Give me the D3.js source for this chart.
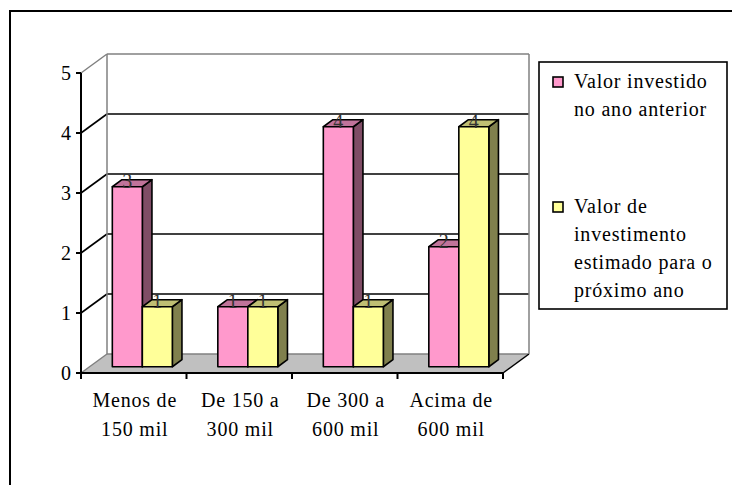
<!DOCTYPE html>
<html>
<head>
<meta charset="utf-8">
<script src="https://cdn.jsdelivr.net/npm/d3@7"></script>
<style>
  html, body { margin: 0; padding: 0; background: #fff; }
  svg { display: block; }
  svg text { font-family: "Liberation Serif", "Times New Roman", Times, serif; }
</style>
</head>
<body>
<svg id="chart" width="732" height="485"></svg>
<script>
// Investment ranges (two text lines each) and the two series
const categories = ["Menos de 150 mil", "De 150 a 300 mil", "De 300 a 600 mil", "Acima de 600 mil"];
const categoryLines = [["Menos de", "150 mil"], ["De 150 a", "300 mil"], ["De 300 a", "600 mil"], ["Acima de", "600 mil"]];
const seriesNames = ["Valor investido no ano anterior", "Valor de investimento estimado para o próximo ano"];
const legendLines = [["Valor investido", "no ano anterior"], ["Valor de", "investimento", "estimado para o", "próximo ano"]];
const valoresAnterior = [3, 1, 4, 2];
const valoresEstimado = [1, 1, 1, 4];
const yTicks = [0, 1, 2, 3, 4, 5];

const FONT = "'Liberation Serif', 'Times New Roman', Times, serif";

// face colours: front, top, side
const palette = [
  { front: "#FF99CC", top: "#C0739A", side: "#804D66" },
  { front: "#FFFF99", top: "#BFBF73", side: "#80804D" }
];

const svg = d3.select("#chart");

// outer frame of the chart area
svg.append("rect")
  .attr("x", 10).attr("y", 11).attr("width", 760).attr("height", 520)
  .attr("fill", "none").attr("stroke", "#000").attr("stroke-width", 2);

// plot geometry: front plane + oblique depth
const DX = 26, DY = -19;
const y = d3.scaleLinear().domain([0, 5]).range([373, 73]);
const x = d3.scaleBand().domain(categories).range([81, 503]);
const xs = d3.scaleBand().domain(seriesNames).range([0, x.bandwidth()]).paddingInner(0).paddingOuter(0.758);

const left = 81, right = 503;
const g = svg.append("g");

// floor
g.append("path")
  .attr("d", `M${left},${y(0)} L${right},${y(0)} L${right + DX},${y(0) + DY} L${left + DX},${y(0) + DY} Z`)
  .attr("fill", "#C0C0C0").attr("stroke", "none");
g.append("line")
  .attr("x1", left + DX).attr("x2", right + DX).attr("y1", y(0) + DY).attr("y2", y(0) + DY)
  .attr("stroke", "#808080").attr("stroke-width", 1.5);
g.append("line")
  .attr("x1", right).attr("y1", y(0)).attr("x2", right + DX).attr("y2", y(0) + DY)
  .attr("stroke", "#000").attr("stroke-width", 1.5);

// back wall grid lines and side wall diagonals
yTicks.forEach(t => {
  const edge = (t === 0 || t === 5);
  const col = edge ? "#808080" : "#000";
  if (t > 0) {
    g.append("line")
      .attr("x1", left + DX).attr("x2", right + DX)
      .attr("y1", y(t) + DY).attr("y2", y(t) + DY)
      .attr("stroke", col).attr("stroke-width", edge ? 1.5 : 1.6);
  }
  g.append("line")
    .attr("x1", left).attr("y1", y(t))
    .attr("x2", left + DX).attr("y2", y(t) + DY)
    .attr("stroke", col).attr("stroke-width", edge ? 1.5 : 1.6);
});
// back wall vertical edges
[left + DX, right + DX].forEach(xx => {
  g.append("line")
    .attr("x1", xx).attr("x2", xx)
    .attr("y1", y(5) + DY).attr("y2", y(0) + DY)
    .attr("stroke", "#808080").attr("stroke-width", 1.5);
});

// bars
const f0 = 0.33, f1 = 0.70;
const series = [valoresAnterior, valoresEstimado];
const bars = [];
categories.forEach((c, i) => {
  seriesNames.forEach((s, k) => {
    bars.push({ cat: c, s, k, v: series[k][i] });
  });
});

const barG = g.append("g");
bars.forEach(b => {
  const x0 = x(b.cat) + xs(b.s) + DX * f0;
  const x1 = x0 + xs.bandwidth();
  const yb = y(0) + DY * f0;
  const yt = y(b.v) + DY * f0;
  const ddx = DX * (f1 - f0), ddy = DY * (f1 - f0);
  const col = palette[b.k];
  const bg = barG.append("g").attr("stroke", "#000").attr("stroke-width", 1.6).attr("stroke-linejoin", "round");
  // side face
  bg.append("path")
    .attr("d", `M${x1},${yt} L${x1 + ddx},${yt + ddy} L${x1 + ddx},${yb + ddy} L${x1},${yb} Z`)
    .attr("fill", col.side);
  // top face
  bg.append("path")
    .attr("d", `M${x0},${yt} L${x1},${yt} L${x1 + ddx},${yt + ddy} L${x0 + ddx},${yt + ddy} Z`)
    .attr("fill", col.top);
  // front face
  bg.append("rect")
    .attr("x", x0).attr("y", yt).attr("width", x1 - x0).attr("height", yb - yt)
    .attr("fill", col.front);
  b.lx = (x0 + x1) / 2;
  b.ly = yt + 1;
});

// value labels
barG.selectAll("text.val").data(bars).join("text")
  .attr("class", "val")
  .attr("x", d => d.lx).attr("y", d => d.ly)
  .attr("text-anchor", "middle")
  .attr("font-family", FONT)
  .attr("font-size", 20).attr("fill", "#333")
  .text(d => d.v);

// value axis
const axisG = svg.append("g");
axisG.append("line")
  .attr("x1", left).attr("x2", left).attr("y1", y(5)).attr("y2", y(0))
  .attr("stroke", "#000").attr("stroke-width", 2);
yTicks.forEach(t => {
  axisG.append("line")
    .attr("x1", left - 5).attr("x2", left).attr("y1", y(t)).attr("y2", y(t))
    .attr("stroke", "#000").attr("stroke-width", 2);
  axisG.append("text")
    .attr("x", 71).attr("y", y(t) + 7)
    .attr("text-anchor", "end")
    .attr("font-family", FONT).attr("font-size", 20).attr("fill", "#000")
    .text(t);
});

// category axis
axisG.append("line")
  .attr("x1", left).attr("x2", right).attr("y1", y(0)).attr("y2", y(0))
  .attr("stroke", "#000").attr("stroke-width", 2);
const tickXs = categories.map(c => x(c)).concat([x(categories[categories.length - 1]) + x.bandwidth()]);
tickXs.forEach(tx => {
  axisG.append("line")
    .attr("x1", tx).attr("x2", tx).attr("y1", y(0)).attr("y2", y(0) + 6)
    .attr("stroke", "#000").attr("stroke-width", 2);
});
categories.forEach((c, i) => {
  const t = axisG.append("text")
    .attr("text-anchor", "middle")
    .attr("font-family", FONT).attr("font-size", 20)
    .attr("letter-spacing", 0.8);
  categoryLines[i].forEach((ln, j) => {
    t.append("tspan")
      .attr("x", x(c) + x.bandwidth() / 2 + 1)
      .attr("y", 407 + j * 29)
      .text(ln);
  });
});

// legend
const lg = svg.append("g");
lg.append("rect")
  .attr("x", 539).attr("y", 62).attr("width", 188).attr("height", 247)
  .attr("fill", "#fff").attr("stroke", "#000").attr("stroke-width", 1.6);
const legendTop = [88, 213];
seriesNames.forEach((s, k) => {
  lg.append("rect")
    .attr("x", 553).attr("y", legendTop[k] - 11).attr("width", 10).attr("height", 10)
    .attr("fill", palette[k].front).attr("stroke", "#000").attr("stroke-width", 1.6);
  const t = lg.append("text")
    .attr("font-family", FONT).attr("font-size", 20).attr("letter-spacing", 0.8);
  legendLines[k].forEach((ln, j) => {
    t.append("tspan").attr("x", 574).attr("y", legendTop[k] + j * 28).text(ln);
  });
});
</script>
</body>
</html>
